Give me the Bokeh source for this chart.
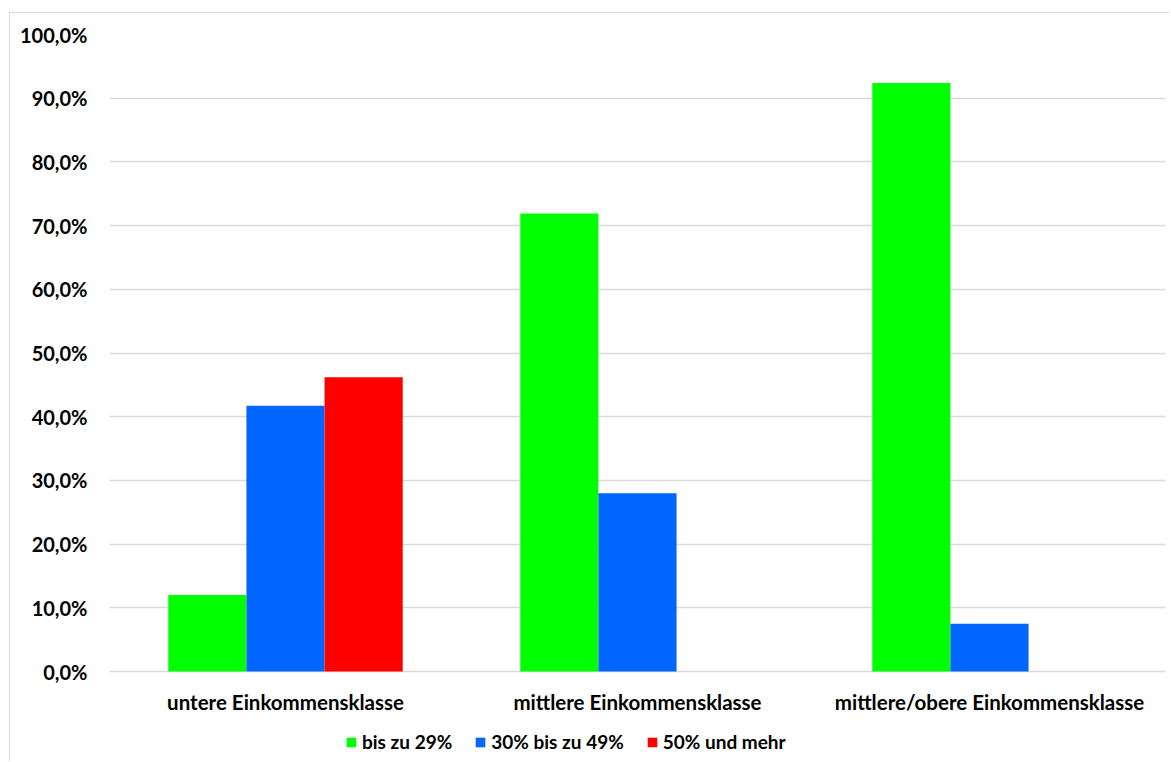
from bokeh.plotting import figure
from bokeh.models import (ColumnDataSource, FactorRange, FixedTicker, CustomJSTickFormatter,
                          Legend, LegendItem)
from bokeh.core.properties import value
from bokeh.transform import dodge
from bokeh.embed import file_html
from bokeh.resources import INLINE

categories = ["untere Einkommensklasse", "mittlere Einkommensklasse", "mittlere/obere Einkommensklasse"]
series_names = ["bis zu 29%", "30% bis zu 49%", "50% und mehr"]
bis_29 = [12.0, 71.9, 92.4]
bis_49 = [41.7, 28.0, 7.5]
ab_50 = [46.2, 0.0, 0.0]
colors = ["#00ff00", "#0066ff", "#ff0000"]
y_ticks = [0, 10, 20, 30, 40, 50, 60, 70, 80, 90, 100]

FONT = "Lato"

# layout (pixels)
W, H = 1160, 749
top_b, bot_b = 21, 2
frame_h = H - top_b - bot_b
zero_from_bottom = 89          # px from frame bottom to the 0 % line
px_per_unit = (frame_h - zero_from_bottom) / 100.0
y_start = -zero_from_bottom / px_per_unit
label_y = -30 / px_per_unit    # category labels 30 px under the 0 % line

src = ColumnDataSource(dict(cat=categories, s0=bis_29, s1=bis_49, s2=ab_50,
                            ly=[label_y] * len(categories)))

p = figure(x_range=FactorRange(*categories, range_padding=0), y_range=(y_start, 100),
           width=W, height=H, output_backend="svg", toolbar_location=None,
           min_border_left=99, min_border_right=5, min_border_top=top_b, min_border_bottom=bot_b,
           styles={"border-left": "1px solid #d9d9d9", "border-top": "1px solid #d9d9d9",
                   "margin-left": "9px", "margin-top": "12px"})
p.outline_line_color = None

bw = 0.222
renderers = []
for i, col in enumerate(["s0", "s1", "s2"]):
    r = p.vbar(x=dodge("cat", (i - 1) * bw, range=p.x_range), top=col, bottom=0, width=bw,
               source=src, fill_color=colors[i], line_color=None)
    renderers.append(r)

# category labels
p.text(x="cat", y="ly", text="cat", source=src, text_align="center", text_baseline="middle",
       text_font=value(FONT), text_font_style="bold", text_font_size="20.5px", text_color="#000000")

p.xaxis.visible = False
p.xgrid.grid_line_color = None
p.ygrid.grid_line_color = "#d9d9d9"
p.ygrid.grid_line_width = 1.3
p.yaxis.ticker = FixedTicker(ticks=y_ticks)
p.yaxis.formatter = CustomJSTickFormatter(code="return tick.toFixed(1).replace('.', ',') + '%';")

ax = p.yaxis[0]
ax.axis_line_color = None
ax.major_tick_line_color = None
ax.minor_tick_line_color = None
ax.major_tick_out = 0
ax.major_tick_in = 0
ax.minor_tick_out = 0
ax.major_label_text_font = FONT
ax.major_label_text_font_style = "bold"
ax.major_label_text_font_size = "20px"
ax.major_label_text_color = "#000000"
ax.major_label_standoff = 22

legend = Legend(items=[LegendItem(label=series_names[i], renderers=[renderers[i]]) for i in range(3)],
                orientation="horizontal", location=(236, 7), padding=0, margin=0, spacing=22,
                glyph_width=12, glyph_height=12, label_standoff=5,
                label_text_font=FONT, label_text_font_style="bold", label_text_font_size="19px",
                label_text_color="#000000",
                border_line_color=None, background_fill_alpha=0)
p.add_layout(legend, "center")

open("out.html", "w").write(file_html(p, INLINE))
